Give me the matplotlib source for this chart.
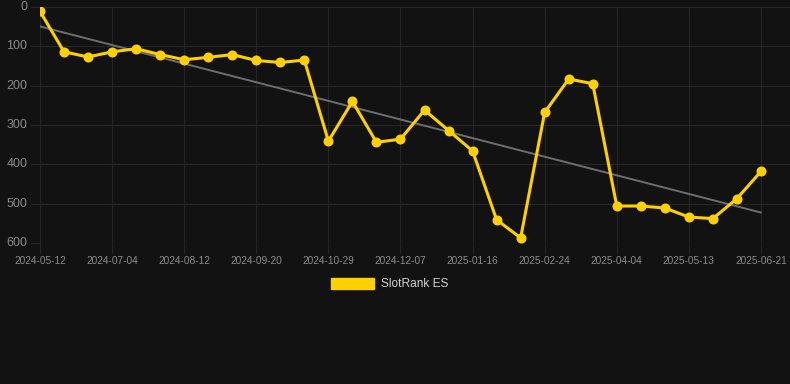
import numpy as np
import matplotlib
matplotlib.use('Agg')
import matplotlib.pyplot as plt
from matplotlib.patches import Patch

plt.rcParams['font.family'] = ['Liberation Sans', 'DejaVu Sans']

# data
tick_labels = ['2024-05-12', '2024-07-04', '2024-08-12', '2024-09-20', '2024-10-29', '2024-12-07',
               '2025-01-16', '2025-02-24', '2025-04-04', '2025-05-13', '2025-06-21']
ranks = [11, 114, 127, 114, 106, 121, 134, 128, 121, 136, 141, 135,
         341, 240, 344, 336, 262, 314, 366, 541, 587, 268, 183, 195,
         506, 506, 511, 534, 538, 487, 418]
series_name = 'SlotRank ES'

bg = '#121212'
grid_c = '#262626'
yellow = '#FFD000'

fig = plt.figure(figsize=(7.9, 3.84), dpi=100, facecolor=bg)
ax = fig.add_axes([40 / 790, 1 - 243 / 384, 750 / 790, 236 / 384])
ax.set_facecolor(bg)

x = np.arange(len(ranks))
# trend line (least squares)
k, b = np.polyfit(x, ranks, 1)
ax.plot(x, k * x + b, color='#6e6e6e', lw=1.4, zorder=2)

ax.plot(x, ranks, color=yellow, lw=2.2, marker='o', markersize=6.2, zorder=3)

ax.set_ylim(600, 0)
ax.set_xlim(0, 30 + 29 / 24)
ax.set_yticks([0, 100, 200, 300, 400, 500, 600])
ax.set_xticks(x[::3])
ax.set_xticklabels(tick_labels)

ax.grid(True, color=grid_c, lw=0.8)
ax.set_axisbelow(True)
for s in ax.spines.values():
    s.set_visible(False)
ax.tick_params(axis='y', colors=grid_c, length=7, width=0.8, labelcolor='#8a8a8a',
               labelsize=9, pad=2)
ax.tick_params(axis='x', colors=grid_c, length=7, width=0.8, labelcolor='#8a8a8a',
               labelsize=7.3, pad=2)
for lab in ax.get_yticklabels():
    lab.set_verticalalignment('center')

handle = Patch(facecolor=yellow, edgecolor=yellow)
fig.legend([handle], [series_name], loc='center', bbox_to_anchor=(390 / 790, 1 - 284 / 384),
           frameon=False, labelcolor='#d0d0d0', fontsize=8.6, handlelength=3.6, handleheight=1.1,
           handletextpad=0.6)

fig.savefig('out.png', dpi=100, facecolor=bg)
